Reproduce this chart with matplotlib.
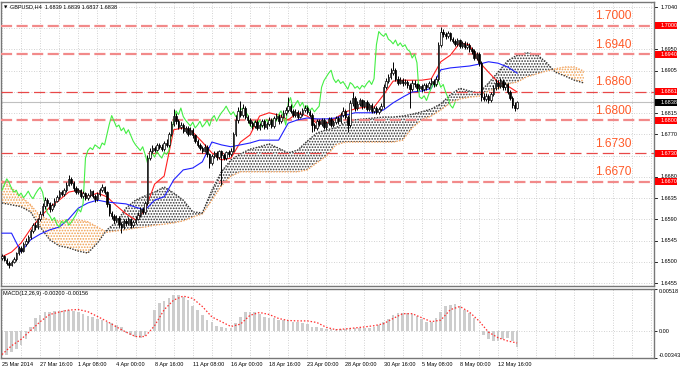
import numpy as np
import matplotlib
matplotlib.use("Agg")
import matplotlib.pyplot as plt
import matplotlib.transforms as mtrans
from matplotlib.patches import Rectangle

plt.rcParams['font.family'] = ['Liberation Sans', 'DejaVu Sans']
plt.rcParams['hatch.linewidth'] = 0.8

# GBPUSD H4 candles, prices in pips above 1.6000 (one value per bar)
first_open = 508
close = [512, 505, 498, 494, 500, 506, 518, 530, 524, 538,
         545, 552, 566, 578, 574, 590, 602, 618, 632, 624,
         612, 620, 630, 638, 648, 644, 652, 664, 676, 668,
         656, 648, 652, 640, 646, 636, 642, 650, 640, 634,
         644, 652, 658, 648, 622, 604, 598, 588, 594, 580,
         574, 586, 582, 590, 578, 584, 592, 600, 612, 606,
         624, 720, 736, 742, 738, 748, 744, 740, 752, 748,
         770, 792, 810, 798, 786, 790, 778, 784, 772, 780,
         768, 756, 748, 742, 736, 744, 728, 710, 724, 730,
         722, 734, 726, 720, 732, 728, 736, 770, 800, 820,
         812, 826, 808, 800, 794, 788, 796, 784, 790, 798,
         786, 792, 800, 788, 804, 810, 798, 808, 816, 822,
         830, 820, 812, 818, 808, 814, 822, 826, 818, 812,
         790, 784, 798, 792, 800, 786, 794, 802, 790, 796,
         804, 798, 812, 820, 808, 790, 836, 848, 826, 834,
         842, 830, 838, 824, 832, 820, 826, 818, 824, 830,
         870, 884, 892, 900, 906, 888, 880, 886, 878, 882,
         874, 866, 880, 876, 868, 872, 866, 874, 870, 878,
         884, 876, 888, 960, 988, 982, 978, 984, 972, 968,
         962, 970, 958, 964, 956, 960, 950, 946, 932, 940,
         922, 850, 846, 852, 842, 856, 868, 880, 872, 884,
         870, 876, 860, 848, 832, 826, 838]
high = [516, 515, 508, 502, 504, 510, 522, 534, 533, 542,
        550, 557, 570, 583, 584, 594, 608, 624, 638, 636,
        628, 625, 635, 642, 653, 652, 657, 670, 684, 680,
        671, 660, 657, 655, 650, 649, 646, 655, 653, 644,
        648, 657, 666, 661, 651, 625, 608, 602, 599, 597,
        584, 590, 590, 595, 593, 589, 597, 606, 617, 616,
        629, 726, 741, 748, 746, 753, 752, 749, 757, 760,
        776, 798, 824, 815, 803, 796, 794, 789, 788, 785,
        784, 772, 760, 752, 746, 749, 747, 731, 728, 735,
        734, 738, 738, 730, 736, 737, 741, 775, 812, 828,
        840, 834, 830, 812, 805, 799, 801, 800, 795, 803,
        802, 797, 806, 804, 809, 815, 814, 813, 822, 828,
        850, 834, 824, 823, 822, 819, 827, 833, 830, 822,
        815, 795, 803, 802, 805, 804, 799, 807, 806, 801,
        809, 810, 817, 828, 824, 812, 842, 860, 852, 840,
        848, 846, 844, 842, 837, 836, 831, 830, 829, 836,
        876, 890, 898, 910, 924, 910, 893, 891, 890, 887,
        886, 878, 885, 885, 880, 877, 876, 879, 878, 883,
        889, 888, 894, 966, 998, 994, 987, 989, 987, 977,
        973, 975, 973, 969, 968, 965, 963, 955, 950, 945,
        944, 926, 858, 858, 856, 861, 874, 888, 885, 890,
        888, 881, 880, 864, 852, 838, 840]
low = [504, 501, 494, 488, 491, 497, 503, 515, 519, 521,
       534, 541, 548, 562, 568, 570, 586, 598, 613, 618,
       606, 607, 616, 626, 634, 639, 640, 648, 660, 662,
       651, 643, 644, 635, 636, 631, 632, 638, 636, 628,
       630, 640, 648, 644, 617, 598, 592, 582, 584, 574,
       562, 570, 577, 578, 573, 574, 580, 588, 596, 601,
       602, 620, 716, 731, 733, 734, 739, 735, 736, 744,
       744, 766, 788, 793, 781, 782, 773, 774, 767, 768,
       763, 751, 743, 737, 731, 732, 722, 700, 706, 720,
       717, 718, 662, 715, 716, 723, 724, 732, 766, 795,
       806, 808, 802, 794, 789, 782, 784, 779, 780, 786,
       781, 782, 788, 783, 784, 800, 793, 794, 804, 812,
       818, 815, 807, 808, 803, 804, 810, 818, 813, 806,
       776, 778, 780, 787, 788, 781, 782, 790, 785, 786,
       792, 793, 794, 808, 803, 776, 786, 830, 820, 822,
       830, 825, 826, 819, 820, 815, 816, 813, 814, 820,
       826, 866, 880, 888, 896, 883, 875, 876, 873, 874,
       868, 826, 862, 871, 863, 864, 861, 862, 865, 866,
       874, 871, 872, 884, 956, 977, 973, 974, 967, 963,
       957, 958, 953, 954, 951, 952, 945, 940, 927, 928,
       916, 840, 840, 841, 837, 838, 852, 864, 867, 868,
       865, 864, 855, 843, 826, 820, 824]

# Ichimoku lines, one value every 4 bars (pips above 1.6000)
tenkan = [511, 521, 540, 570, 595, 616, 631, 648, 652, 638,
          646, 638, 619, 602, 589, 610, 665, 682, 780, 784,
          775, 754, 731, 716, 720, 754, 769, 809, 816, 811,
          801, 816, 809, 794, 794, 805, 818, 824, 828, 828,
          854, 883, 885, 885, 885, 888, 924, 938, 964, 960,
          924, 902, 881, 873, 860]
kijun = [561, 561, 521, 547, 559, 568, 574, 591, 614, 625,
         631, 627, 625, 623, 616, 610, 631, 638, 674, 695,
         699, 712, 754, 748, 744, 748, 752, 758, 758, 758,
         794, 801, 805, 803, 803, 805, 811, 816, 816, 816,
         822, 837, 849, 860, 862, 868, 907, 911, 913, 915,
         919, 924, 921, 913, 900]
# senkou spans (already shifted forward, so they run past the last candle)
span_a = [672, 657, 638, 621, 597, 589, 587, 589, 589, 585,
          574, 563, 566, 568, 572, 574, 578, 580, 583, 587,
          595, 602, 631, 661, 682, 691, 691, 691, 691, 691,
          691, 691, 695, 710, 724, 748, 754, 754, 754, 754,
          754, 754, 758, 784, 801, 809, 822, 837, 845, 849,
          851, 862, 868, 877, 881, 892, 898, 904, 909, 913,
          913, 904]
span_b = [625, 621, 617, 606, 574, 547, 534, 530, 523, 519,
          540, 568, 585, 614, 631, 640, 648, 659, 646, 631,
          606, 604, 652, 691, 716, 729, 739, 744, 750, 741,
          731, 737, 756, 773, 780, 784, 796, 801, 803, 805,
          807, 807, 809, 813, 818, 824, 835, 854, 868, 862,
          858, 879, 902, 926, 938, 943, 940, 924, 902, 894,
          885, 879]

# MACD(12,26,9) in units of 1e-5: main every 2 bars, signal every 4 bars
macd_main = [-300, -310, -270, -230, -180, -100, 40, 150, 195, 225,
             235, 240, 245, 255, 260, 245, 225, 200, 185, 170,
             140, 125, 105, 90, 70, 40, -30, -60, -80, -90,
             -70, 0, 250, 340, 370, 400, 440, 445, 420, 380,
             300, 250, 190, 130, 100, 60, 40, 30, 35, 90,
             170, 225, 230, 225, 200, 170, 160, 150, 135, 125,
             120, 100, 100, 95, 80, 50, 45, 30, 20, 20,
             20, 20, 25, 30, 30, 30, 35, 35, 40, 70,
             100, 140, 190, 215, 220, 220, 205, 180, 140, 110,
             105, 150, 230, 310, 320, 325, 300, 260, 220, 150,
             0, -50, -100, -130, -130, -110, -95, -130, -200]
macd_signal = [-300, -190, -110, 0, 110, 200, 230, 255, 262, 235,
               175, 115, 45, -20, -75, -75, 60, 260, 380, 430,
               400, 300, 170, 110, 50, 80, 190, 225, 200, 150,
               125, 120, 120, 100, 40, 10, 20, 32, 45, 60,
               85, 150, 210, 210, 160, 110, 130, 260, 300, 230,
               120, -20, -90, -130, -156]

levels = [1.7000, 1.6940, 1.6861, 1.6800, 1.6730, 1.6670]
level_names = ["1.7000", "1.6940", "1.6860", "1.6800", "1.6730", "1.6670"]
level_box = ["1.7000", "1.6940", "1.6861", "1.6800", "1.6730", "1.6670"]
level_thin = [False, False, True, False, True, False]
last_price = 1.6838
# scale labels that are not hidden under a level box
price_ticks = [1.7040, 1.6950, 1.6905, 1.6815, 1.6770,
               1.6680, 1.6635, 1.6590, 1.6545, 1.6500, 1.6455]
grid_prices = [1.7040, 1.6995, 1.6950, 1.6905, 1.6860, 1.6815, 1.6770,
               1.6725, 1.6680, 1.6635, 1.6590, 1.6545, 1.6500, 1.6455]
macd_ticks = [0.00518, 0.0, -0.00343]
macd_tick_labels = ["0.00518", "0.00", "-0.00343"]
date_labels = ["25 Mar 2014", "27 Mar 16:00", "1 Apr 08:00", "4 Apr 00:00",
               "8 Apr 16:00", "11 Apr 08:00", "16 Apr 00:00", "18 Apr 16:00",
               "23 Apr 00:00", "28 Apr 00:00", "30 Apr 16:00", "5 May 08:00",
               "8 May 00:00", "12 May 16:00"]


def px(v):
    return 1.6 + np.asarray(v, dtype=float) * 1e-4


W, H = 682, 371
fig = plt.figure(figsize=(W / 100, H / 100), dpi=100)
fig.patch.set_facecolor('white')


def frame(x0, y0, x1, y1):
    return [x0 / W, 1 - y1 / H, (x1 - x0) / W, (y1 - y0) / H]


ax = fig.add_axes(frame(1, 2, 654, 286))
mx = fig.add_axes(frame(1, 289, 654, 358))
XLIM = (-0.42, 273.4)
grid_kw = dict(color='#c4c4c4', ls=(0, (1, 2)), lw=0.6)
SMALL = 4.0

# ---- candles
c = px(close)
h = px(high)
l = px(low)
o = np.concatenate([[px(first_open)], c[:-1]])
bars = np.arange(len(c))
ax.vlines(bars, l, h, color='black', lw=0.7, zorder=6)
up = c >= o
ax.bar(bars[up], (c - o)[up], bottom=o[up], width=0.6, color='white',
       edgecolor='black', lw=0.5, zorder=7)
ax.bar(bars[~up], (o - c)[~up], bottom=c[~up], width=0.6, color='black',
       edgecolor='black', lw=0.5, zorder=7)

# ---- ichimoku cloud
xc = np.arange(len(span_a)) * 4
A = px(span_a)
B = px(span_b)
ax.fill_between(xc, A, B, where=A >= B, interpolate=True, facecolor='none',
                edgecolor='#f0a050', hatch='......', lw=0, zorder=2)
ax.fill_between(xc, A, B, where=A < B, interpolate=True, facecolor='none',
                edgecolor='#333333', hatch='......', lw=0, zorder=2)
ax.plot(xc, A, color='#f4a460', lw=1.0, ls=(0, (1, 1)), zorder=3)
ax.plot(xc, B, color='#333333', lw=1.0, ls=(0, (1, 1)), zorder=3)

xt = np.arange(len(tenkan)) * 4
ax.plot(xt, px(tenkan), color='#ff2020', lw=0.8, zorder=5)
ax.plot(xt, px(kijun), color='#2020ff', lw=0.8, zorder=5)
# chikou span = close plotted 26 bars back
ax.plot(bars[:-26], c[26:], color='#44ee44', lw=0.8, zorder=5)

# ---- horizontal levels
for lev, thin in zip(levels, level_thin):
    if thin:
        ax.axhline(lev, color='#e84848', lw=0.9, dashes=(9, 4), zorder=4)
    else:
        ax.axhline(lev, color='#f28a8a', lw=1.6, dashes=(5, 2), zorder=4)
ax.axhline(last_price, color='#c0c0c0', lw=0.8, zorder=1)

blend = mtrans.blended_transform_factory(ax.transAxes, ax.transData)
for lev, name in zip(levels, level_names):
    ax.annotate(name, xy=(0.9096, lev), xycoords=blend, xytext=(0, 2.5),
                textcoords='offset points', color='#ff5a28', fontsize=8.6,
                va='bottom', ha='left', zorder=9)

# ---- axes cosmetics main
ax.set_xlim(*XLIM)
ax.set_ylim(1.64491, 1.70506)
ax.set_xticks(np.arange(0, 274, 8))
ax.set_xticklabels([])
ax.tick_params(axis='x', length=0)
ax.set_yticks(grid_prices)
ax.set_yticklabels([])
ax.tick_params(axis='y', length=0)
ax.grid(True, **grid_kw)
ax.set_axisbelow(True)
for s in ax.spines.values():
    s.set_color('#777777')
    s.set_linewidth(1.0)

# right price scale
for t in grid_prices:
    ax.plot([1.0, 1.0045], [t, t], transform=blend, color='black', lw=0.6,
            clip_on=False)
for t in price_ticks:
    ax.text(1.0095, t, "%.4f" % t, transform=blend, fontsize=SMALL,
            va='center', ha='left', clip_on=False)

# price boxes on the right scale
half = 3.4 / 4722.0
box_w = 22.0 / 653.0
for lev, name in zip(levels, level_box):
    ax.add_patch(Rectangle((1.0015, lev - half), box_w, 2 * half, transform=blend,
                           facecolor='#ff0000', edgecolor='none', clip_on=False, zorder=10))
    ax.text(1.0095, lev, name, transform=blend, color='white', fontsize=SMALL,
            va='center', ha='left', clip_on=False, zorder=11)
ax.add_patch(Rectangle((1.0015, last_price - half), box_w, 2 * half, transform=blend,
                       facecolor='black', edgecolor='none', clip_on=False, zorder=10))
ax.text(1.0095, last_price, "%.4f" % last_price, transform=blend, color='white',
        fontsize=SMALL, va='center', ha='left', clip_on=False, zorder=11)

ax.text(0.004, 0.982, "\u25BC", transform=ax.transAxes, fontsize=3.2,
        va='center', ha='left', family='DejaVu Sans')
ax.text(0.0138, 0.982, "GBPUSD,H4  1.6839 1.6839 1.6837 1.6838",
        transform=ax.transAxes, fontsize=SMALL, va='center', ha='left')

# ---- MACD panel
xm = np.arange(len(macd_main)) * 2
mx.bar(xm, np.asarray(macd_main) * 1e-5, width=1.1, color='#cdcdcd', lw=0, zorder=2)
xs = np.arange(len(macd_signal)) * 4
mx.plot(xs, np.asarray(macd_signal) * 1e-5, color='#ff3030', lw=0.9,
        ls=(0, (1.2, 1.5)), zorder=3)
mx.set_xlim(*XLIM)
mx.set_ylim(-0.00343, 0.00518)
grid_x = np.arange(0, 274, 8)
mx.set_xticks(grid_x)
mx.set_xticklabels([date_labels[i // 2] if i % 2 == 0 and i // 2 < len(date_labels) else ''
                    for i in range(len(grid_x))])
for t in mx.get_xticklabels():
    t.set_ha('left')
mx.tick_params(axis='x', length=0, pad=3, labelsize=SMALL)
mx.yaxis.tick_right()
mx.set_yticks(macd_ticks)
mx.set_yticklabels(macd_tick_labels)
mx.tick_params(axis='y', length=2.2, width=0.6, pad=1.2, labelsize=SMALL)
labs = mx.get_yticklabels()
labs[0].set_va('top')
labs[2].set_va('bottom')
mx.grid(True, **grid_kw)
mx.set_axisbelow(True)
for s in mx.spines.values():
    s.set_color('#777777')
    s.set_linewidth(1.0)
mx.text(0.003, 0.93, "MACD(12,26,9) -0.00200 -0.00156", transform=mx.transAxes,
        fontsize=SMALL, va='center', ha='left')

fig.savefig("out.png", dpi=100)
